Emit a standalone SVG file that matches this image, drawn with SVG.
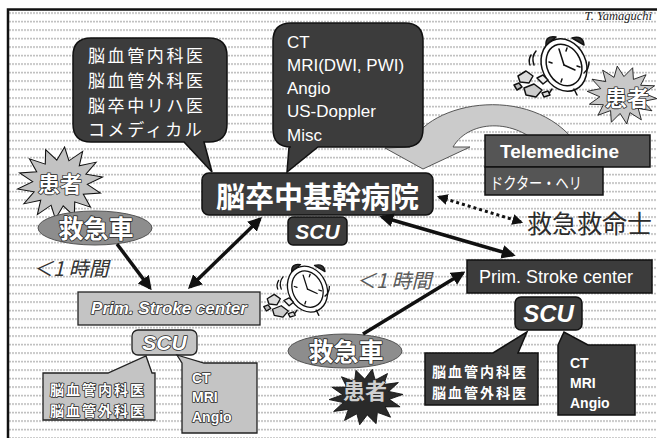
<svg xmlns="http://www.w3.org/2000/svg" width="657" height="438" viewBox="0 0 657 438">
  <defs>
    <style>
      .jp { font-family: "Noto Sans CJK JP", sans-serif; }
      .la { font-family: "Liberation Sans", Arial, sans-serif; }
      .w { fill: #fff; }
      .ol { stroke: #2a2a2a; stroke-width: 1.6; paint-order: stroke; stroke-linejoin: round; }
      .dark { fill: #3c3c3c; stroke: #111; stroke-width: 1.5; }
      .mid { fill: #555; stroke: #111; stroke-width: 1.5; }
      .light { fill: #c4c4c4; stroke: #222; stroke-width: 1.3; }
      .amb { fill: #8d8d8d; stroke: #555; stroke-width: 1; }
      .conn { stroke: #111; stroke-width: 3.5; fill: none; }
      .dot { stroke: #111; stroke-width: 3; stroke-dasharray: 3 3; fill: none; }
      .burst { vector-effect: non-scaling-stroke; stroke: #111; stroke-width: 1.3; }
    </style>
    <pattern id="rules" width="3" height="8.5" patternUnits="userSpaceOnUse">
      <rect x="0" y="4" width="2" height="1.2" fill="#a6a6a6"/>
    </pattern>
    <marker id="ah" viewBox="0 0 10 10" refX="8" refY="5" markerWidth="4" markerHeight="4" orient="auto-start-reverse">
      <path d="M0 0 L10 5 L0 10 Z" fill="#111"/>
    </marker>
    <marker id="ahd" viewBox="0 0 10 10" refX="8" refY="5" markerWidth="3.6" markerHeight="3.6" orient="auto-start-reverse">
      <path d="M0 0 L10 5 L0 10 Z" fill="#111"/>
    </marker>
    <!-- 14-point burst, radius 50 around the origin -->
    <path id="star" d="M50 0 L31.2 7.1 L45 21.7 L25 20 L31.2 39.1 L13.9 28.8 L11.1 48.7 L0 32 L-11.1 48.7 L-13.9 28.8 L-31.2 39.1 L-25 20 L-45 21.7 L-31.2 7.1 L-50 0 L-31.2 -7.1 L-45 -21.7 L-25 -20 L-31.2 -39.1 L-13.9 -28.8 L-11.1 -48.7 L0 -32 L11.1 -48.7 L13.9 -28.8 L31.2 -39.1 L25 -20 L45 -21.7 L31.2 -7.1 Z"/>
    <!-- ringing alarm clock with rubble -->
    <symbol id="clock" viewBox="0 0 80 66" overflow="visible">
      <g stroke="#111" stroke-width="1.5" stroke-linecap="round" stroke-linejoin="round">
        <path d="M34 13 Q33 2 44 4 Z" fill="#333"/>
        <path d="M60 5 Q71 2 72 12 Z" fill="#333"/>
        <ellipse cx="52" cy="32" rx="22" ry="27" transform="rotate(-25 52 32)" fill="#fff"/>
        <ellipse cx="52" cy="32" rx="17" ry="21.5" transform="rotate(-25 52 32)" fill="#fff"/>
        <line x1="52" y1="32" x2="47" y2="16" fill="none"/>
        <line x1="52" y1="32" x2="63" y2="37" fill="none"/>
        <path d="M55 15 l-1 3 M68 34 l-3 -1 M49 49 l1 -3 M37 29 l3 1" fill="none"/>
        <path d="M40 56 l-4 6 M62 56 l3 6" fill="none"/>
        <path d="M24 18 q-5 6 -2 14 M19 22 q-3 5 -1 10 M72 40 q5 -4 5 -11" fill="none"/>
        <path d="M6 43 l8 -5 l7 5 l-4 7 l-9 -1 Z" fill="#ddd"/>
        <path d="M12 55 l10 -4 l8 6 l-6 7 l-10 -2 Z" fill="#ccc"/>
        <path d="M25 45 l6 -3 l5 5 l-5 4 Z" fill="#eee"/>
        <path d="M2 52 l5 -2 l3 4 l-5 3 Z" fill="#bbb"/>
        <path d="M30 60 l6 -2 l2 4 l-6 2 Z" fill="#ddd"/>
      </g>
    </symbol>
  </defs>

  <!-- ruled paper background and frame -->
  <rect x="0" y="0" width="657" height="438" fill="#fff"/>
  <rect x="9" y="10" width="648" height="428" fill="url(#rules)"/>
  <path d="M8 438 V9.5 H657" fill="none" stroke="#111" stroke-width="2.5"/>
  <text x="652" y="20" text-anchor="end" font-family="Liberation Serif, serif" font-style="italic" font-size="12.5" fill="#222">T. Yamaguchi</text>

  <!-- curved telemedicine arrow -->
  <g id="tele-arrow">
    <path d="M385 148 L410 147 C425 100 540 80 582 152 L546 152 C520 118 470 118 453 147 L470 147 L423 169 Z" fill="#cbcbcb" stroke="#555" stroke-width="1"/>
  </g>

  <!-- staff callout -->
  <g id="staff">
    <path class="dark" d="M91 38 H209 Q227 38 227 56 V124 Q227 142 209 142 H204 L212 172 L184 142 H91 Q73 142 73 124 V56 Q73 38 91 38 Z"/>
    <g class="jp w" font-size="17" letter-spacing="2.6">
      <text x="88" y="62">脳血管内科医</text>
      <text x="88" y="86.8">脳血管外科医</text>
      <text x="88" y="111.6">脳卒中リハ医</text>
      <text x="88" y="136.4">コメディカル</text>
    </g>
  </g>

  <!-- imaging callout -->
  <g id="imaging">
    <path class="dark" d="M291 23 H405 Q423 23 423 41 V129 Q423 147 405 147 H318 L287 172 L289 147 H291 Q273 147 273 129 V41 Q273 23 291 23 Z"/>
    <g class="la w" font-size="17">
      <text x="287" y="48">CT</text>
      <text x="287" y="71">MRI(DWI, PWI)</text>
      <text x="287" y="94">Angio</text>
      <text x="287" y="117">US-Doppler</text>
      <text x="287" y="141">Misc</text>
    </g>
  </g>

  <!-- comprehensive stroke hospital -->
  <g id="hub">
    <rect class="dark" x="202" y="173" width="231" height="42" rx="7"/>
    <text class="jp w" x="317.5" y="208" font-size="29" font-weight="bold" text-anchor="middle">脳卒中基幹病院</text>
  </g>
  <g id="hub-scu">
    <rect class="dark" x="288" y="217" width="59" height="28" rx="5"/>
    <text class="la w" x="317.5" y="239" font-size="21" font-weight="bold" font-style="italic" text-anchor="middle">SCU</text>
  </g>

  <!-- telemedicine / helicopter -->
  <g id="telemedicine">
    <rect class="mid" x="485" y="135" width="165" height="32"/>
    <text class="la w" x="500" y="158" font-size="19" font-weight="bold">Telemedicine</text>
  </g>
  <g id="heli">
    <rect class="mid" x="485" y="167" width="118" height="28"/>
    <text class="jp w" x="490" y="189" font-size="16" textLength="92" lengthAdjust="spacingAndGlyphs">ドクター・ヘリ</text>
  </g>

  <g id="paramedic">
    <text class="jp" x="527" y="233" font-size="25" fill="#2c2c2c">救急救命士</text>
  </g>

  <!-- patients -->
  <g id="patient-left">
    <use href="#star" class="burst" fill="#c2c2c2" transform="translate(60 183) rotate(-8) scale(0.86 0.72)"/>
    <text class="jp w ol" x="60" y="192" font-size="22" font-weight="bold" text-anchor="middle">患者</text>
  </g>
  <g id="patient-top">
    <use href="#star" class="burst" fill="#c8c8c8" transform="translate(622 95) rotate(6) scale(0.7 0.58)"/>
    <text class="jp w ol" x="627" y="106" font-size="22" font-weight="bold" text-anchor="middle">患者</text>
  </g>
  <g id="patient-bottom">
    <use href="#star" class="burst" fill="#2a2a2a" transform="translate(366 397) rotate(-4) scale(0.74 0.56)"/>
    <text class="jp ol" x="365" y="399" font-size="22" font-weight="bold" fill="#d0d0d0" text-anchor="middle">患者</text>
  </g>

  <!-- ambulances -->
  <g id="ambulance-left">
    <ellipse class="amb" cx="95" cy="228" rx="57" ry="17"/>
    <text class="jp w ol" x="96" y="238" font-size="25" font-weight="bold" text-anchor="middle">救急車</text>
  </g>
  <g id="ambulance-right">
    <ellipse class="amb" cx="345" cy="351" rx="57" ry="17"/>
    <text class="jp w ol" x="346" y="361" font-size="25" font-weight="bold" text-anchor="middle">救急車</text>
  </g>

  <!-- clocks -->
  <g id="clock-top"><use href="#clock" x="512" y="33" width="80" height="66"/></g>
  <g id="clock-mid"><use href="#clock" x="262" y="258" width="70" height="64"/></g>

  <!-- time labels -->
  <g id="time-left">
    <text class="jp" x="33" y="276" font-size="20" font-style="italic" fill="#333">＜1 時間</text>
  </g>
  <g id="time-right">
    <text class="jp" x="356" y="288" font-size="20" font-style="italic" fill="#5a5a5a">＜1 時間</text>
  </g>

  <!-- primary stroke center, left -->
  <g id="psc-left">
    <rect class="light" x="78" y="292" width="182" height="33"/>
    <text class="la w ol" x="169" y="314" font-size="17" font-weight="bold" font-style="italic" text-anchor="middle">Prim. Stroke center</text>
  </g>
  <g id="psc-left-scu">
    <rect class="light" x="132" y="330" width="65" height="25" rx="6"/>
    <text class="la w ol" x="164.5" y="350" font-size="21" font-weight="bold" font-style="italic" text-anchor="middle">SCU</text>
  </g>
  <g id="psc-left-staff">
    <path class="light" d="M43 373 H108 L146 356 L152 373 H155 V420 H43 Z"/>
    <g class="jp w ol" font-size="14" font-weight="bold" letter-spacing="2">
      <text x="50" y="395">脳血管内科医</text>
      <text x="50" y="415.5">脳血管外科医</text>
    </g>
  </g>
  <g id="psc-left-imaging">
    <path class="light" d="M182 363 L177 355 L204 363 H257 V433 H182 Z" fill="#b4b4b4"/>
    <g class="la w ol" font-size="14" font-weight="bold">
      <text x="192" y="383">CT</text>
      <text x="192" y="402">MRI</text>
      <text x="192" y="422">Angio</text>
    </g>
  </g>

  <!-- primary stroke center, right -->
  <g id="psc-right">
    <rect class="dark" x="467" y="260" width="185" height="33" fill="#474747"/>
    <text class="la w" x="556" y="283" font-size="18" text-anchor="middle">Prim. Stroke center</text>
  </g>
  <g id="psc-right-scu">
    <rect class="dark" x="515" y="297" width="67" height="33" rx="6"/>
    <text class="la w" x="548.5" y="322" font-size="24" font-weight="bold" font-style="italic" text-anchor="middle">SCU</text>
  </g>
  <g id="psc-right-staff">
    <path class="dark" d="M425 353 H493 L527 332 L518 353 H538 V405 H425 Z" fill="#4a4a4a"/>
    <g class="jp w" font-size="14" font-weight="bold" letter-spacing="2">
      <text x="432" y="377">脳血管内科医</text>
      <text x="432" y="397.5">脳血管外科医</text>
    </g>
  </g>
  <g id="psc-right-imaging">
    <path class="dark" d="M558 345 L564 332 L588 345 H635 V415 H558 Z" fill="#4a4a4a"/>
    <g class="la w" font-size="14" font-weight="bold">
      <text x="570" y="368">CT</text>
      <text x="570" y="388">MRI</text>
      <text x="570" y="408">Angio</text>
    </g>
  </g>

  <!-- connectors -->
  <g id="connectors">
    <line class="conn" x1="260" y1="219" x2="190" y2="287" marker-start="url(#ah)" marker-end="url(#ah)"/>
    <line class="conn" x1="382" y1="217" x2="513" y2="255" marker-start="url(#ah)" marker-end="url(#ah)"/>
    <line class="conn" x1="117" y1="244" x2="150" y2="288" marker-end="url(#ah)"/>
    <line class="conn" x1="363" y1="334" x2="463" y2="273" marker-end="url(#ah)"/>
    <line class="dot" x1="439" y1="197" x2="521" y2="222" marker-start="url(#ahd)" marker-end="url(#ahd)"/>
  </g>
</svg>
